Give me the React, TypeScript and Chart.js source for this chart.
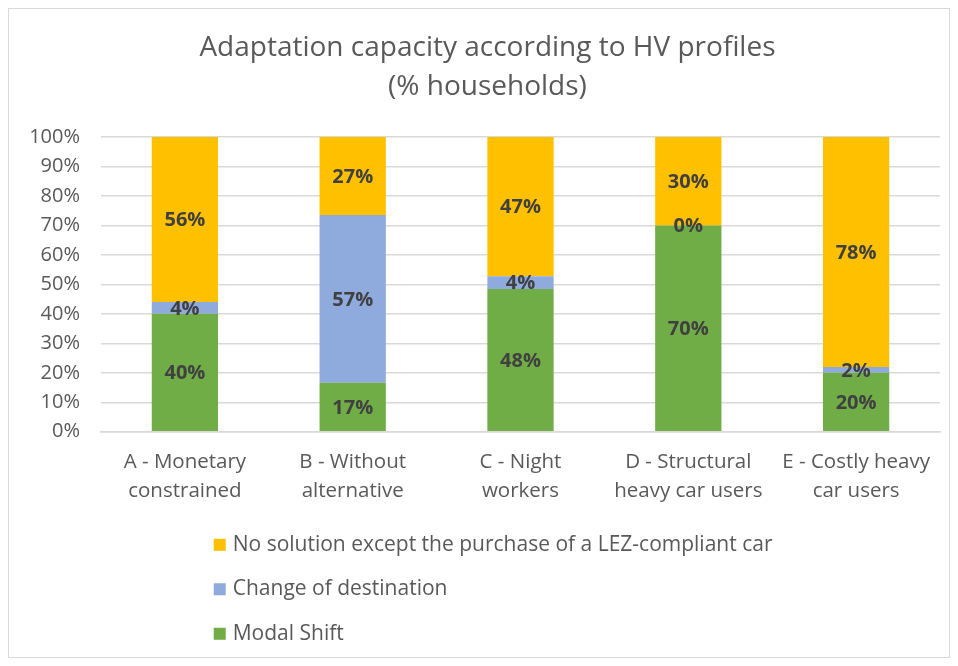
import React, { useEffect, useRef } from "react";
import { Chart, registerables } from "chart.js";

Chart.register(...registerables);

const categories: string[][] = [
  ["A - Monetary", "constrained"],
  ["B - Without", "alternative"],
  ["C - Night", "workers"],
  ["D - Structural", "heavy car users"],
  ["E - Costly heavy", "car users"],
];
const modalShift = [40, 16.6, 48.4, 70, 20];
const changeOfDestination = [4, 56.9, 4.4, 0, 2];
const noSolution = [56, 26.5, 47.2, 30, 78];
const seriesNames = [
  "Modal Shift",
  "Change of destination",
  "No solution except the purchase of a LEZ-compliant car",
];
const seriesColors = ["#70AD47", "#8FAADC", "#FFC000"];
const titleLines = ["Adaptation capacity according to HV profiles", "(% households)"];

const FONT = "'Open Sans', Lato, sans-serif";

const dataLabelPlugin = {
  id: "dataLabels",
  afterDatasetsDraw(chart: any) {
    const ctx = chart.ctx;
    ctx.save();
    ctx.font = `bold 20px ${FONT}`;
    ctx.fillStyle = "#404040";
    ctx.textAlign = "center";
    ctx.textBaseline = "middle";
    chart.data.datasets.forEach((ds: any, di: number) => {
      const meta = chart.getDatasetMeta(di);
      meta.data.forEach((bar: any, i: number) => {
        const v = ds.data[i];
        const y = (bar.y + bar.base) / 2;
        ctx.fillText(Math.round(v) + "%", bar.x, y + 1);
      });
    });
    ctx.restore();
  },
};

const legendPlugin = {
  id: "vertLegend",
  afterDraw(chart: any) {
    const ctx = chart.ctx;
    ctx.save();
    ctx.font = `21px ${FONT}`;
    ctx.textBaseline = "middle";
    const items = chart.data.datasets.map((d: any) => ({ label: d.label, color: d.backgroundColor })).reverse();
    const box = 12;
    const gap = 7;
    const maxW = Math.max(...items.map((it: any) => ctx.measureText(it.label).width));
    const blockW = box + gap + maxW;
    const x0 = chart.width * 0.515 - blockW / 2;
    const y0 = chart.chartArea.bottom + 113;
    const step = 44.5;
    items.forEach((it: any, k: number) => {
      const y = y0 + k * step;
      ctx.fillStyle = it.color;
      ctx.fillRect(x0, y - box / 2, box, box);
      ctx.fillStyle = "#595959";
      ctx.fillText(it.label, x0 + box + gap, y);
    });
    ctx.restore();
  },
};

const titlePlugin = {
  id: "customTitle",
  afterDraw(chart: any) {
    const ctx = chart.ctx;
    ctx.save();
    ctx.font = `28px ${FONT}`;
    ctx.fillStyle = "#595959";
    ctx.textAlign = "center";
    ctx.textBaseline = "middle";
    const cx = chart.width * 0.509;
    titleLines.forEach((t, k) => ctx.fillText(t, cx, 39 + k * 39));
    ctx.restore();
  },
};

export default function App() {
  const ref = useRef<HTMLCanvasElement>(null);
  useEffect(() => {
    if (!ref.current) return;
    const chart = new Chart(ref.current, {
      type: "bar",
      data: {
        labels: categories,
        datasets: [
          { label: seriesNames[0], data: modalShift, backgroundColor: seriesColors[0] },
          { label: seriesNames[1], data: changeOfDestination, backgroundColor: seriesColors[1] },
          { label: seriesNames[2], data: noSolution, backgroundColor: seriesColors[2] },
        ],
      },
      options: {
        animation: false,
        responsive: false,
        maintainAspectRatio: false,
        layout: { padding: { left: 0, right: 9, top: 128, bottom: 135 } },
        datasets: { bar: { barPercentage: 0.395, categoryPercentage: 1 } },
        plugins: {
          legend: { display: false },
          tooltip: { enabled: false },
          title: { display: false },
        },
        scales: {
          x: {
            stacked: true,
            grid: { display: false, drawTicks: false },
            border: { display: true, color: "#d9d9d9", width: 1.5 },
            ticks: {
              color: "#595959",
              font: { family: FONT, size: 20.5, lineHeight: 1.42 },
              padding: 16,
              maxRotation: 0,
              autoSkip: false,
            },
          },
          y: {
            stacked: true,
            min: 0,
            max: 100,
            grid: { color: "#d9d9d9", lineWidth: 1.5, drawTicks: false },
            border: { display: false },
            ticks: {
              stepSize: 10,
              color: "#595959",
              font: { family: FONT, size: 20 },
              padding: 21,
              callback: (v: any) => v + "%",
            },
            afterFit: (scale: any) => {
              scale.width = 92;
            },
          },
        },
      },
      plugins: [dataLabelPlugin, legendPlugin, titlePlugin],
    });
    return () => chart.destroy();
  }, []);
  return (
    <div style={{ width: 940, height: 648, border: "1px solid #d9d9d9", background: "#fff" }}>
      <canvas ref={ref} width={940} height={648} style={{ display: "block" }} />
    </div>
  );
}
